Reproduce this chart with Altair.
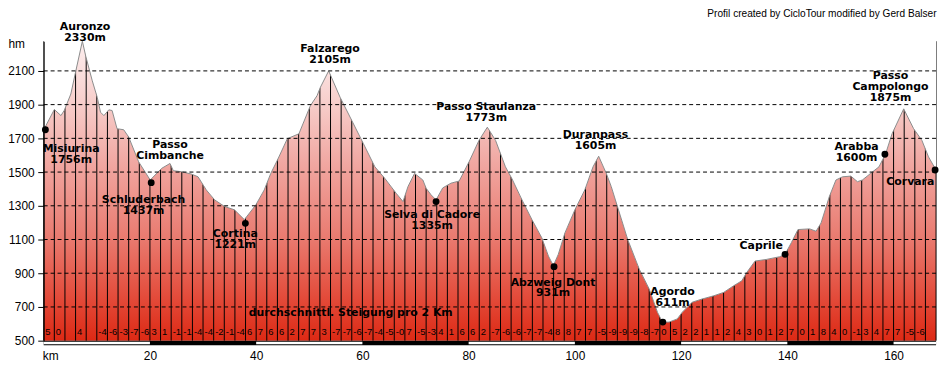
import altair as alt
import pandas as pd

# ---------------- data ----------------
profile_km = [0.0, 2.0, 3.25, 3.86, 5.11, 6.05, 7.28, 7.91, 9.15, 10.08, 10.7, 11.33, 12.26, 12.88,
              13.81, 15.06, 16.0, 17.87, 20.05, 22.21, 23.78, 24.4, 25.95, 27.81, 29.06, 30.61,
              32.18, 34.05, 35.92, 37.78, 39.95, 41.52, 42.75, 44.0, 45.87, 48.05, 50.21, 51.46,
              52.08, 53.65, 55.81, 58.0, 60.18, 62.35, 64.21, 66.34, 67.65, 68.58, 69.82, 71.38,
              72.0, 72.93, 73.87, 75.12, 76.67, 78.22, 80.08, 81.95, 83.52, 85.07, 86.93, 88.18,
              90.05, 91.92, 93.78, 95.02, 95.95, 96.88, 98.13, 100.0, 101.87, 103.42, 104.48,
              105.92, 106.85, 109.95, 112.13, 114.0, 115.55, 116.48, 117.73, 119.28, 120.22,
              122.08, 123.95, 126.13, 128.0, 129.87, 131.42, 132.35, 133.92, 136.08, 138.58,
              139.57, 140.75, 142.0, 144.18, 145.41, 146.35, 147.91, 149.15, 150.4, 151.95,
              153.2, 154.13, 155.68, 157.25, 158.48, 159.73, 161.91, 163.78, 165.33, 166.58, 168.0]
profile_elev = [1750, 1871, 1835, 1865, 1963, 2100, 2276, 2188, 2041, 1943, 1855, 1835, 1869, 1865,
                1757, 1751, 1708, 1561, 1453, 1522, 1551, 1508, 1502, 1488, 1472, 1394,
                1335, 1296, 1276, 1218, 1306, 1394, 1492, 1571, 1698, 1727, 1894, 1953,
                2002, 2100, 1943, 1806, 1669, 1531, 1463, 1375, 1325, 1414, 1492, 1453,
                1404, 1365, 1335, 1406, 1434, 1447, 1561, 1688, 1766, 1688, 1531, 1459,
                1335, 1218, 1110, 1002, 945, 1012, 1139, 1276, 1394, 1531, 1594,
                1492, 1414, 1100, 924, 806, 669, 610, 610, 629, 669,
                728, 747, 766, 786, 825, 855, 904, 972, 982, 998,
                1012, 1081, 1159, 1163, 1149, 1198, 1355, 1453, 1472, 1476,
                1443, 1453, 1492, 1531, 1606, 1728, 1875, 1757, 1688, 1590, 1512]

# average gradient per 2 km segment (empty where the original shows nothing)
grad_labels = ["5", "0", "", "4", "", "-4", "-6", "-3", "-7", "-6", "3", "1", "-1", "-1", "-4", "-4",
               "-2", "-1", "-4", "6", "7", "6", "6", "2", "7", "7", "3", "-7", "-7", "-6", "-7", "-4",
               "-5", "-0", "7", "-5", "-3", "4", "1", "6", "6", "2", "-7", "-6", "-6", "-7", "-7", "-4",
               "8", "8", "7", "7", "-5", "-9", "-9", "-9", "-8", "-7", "0", "5", "2", "2", "1", "1",
               "2", "4", "3", "0", "1", "2", "7", "0", "1", "8", "4", "0", "-1", "3", "4", "7", "7",
               "-5", "-6", ""]
SEG_LEN = 2

km_ticks = [20, 40, 60, 80, 100, 120, 140, 160]
elev_ticks = [500, 700, 900, 1100, 1300, 1500, 1700, 1900, 2100]
grid_levels = [700, 900, 1100, 1300, 1500, 1700, 1900, 2100]

# places: label text, label anchor (km, elev)
label_text = ["Auronzo\n2330m", "Falzarego\n2105m", "Passo Staulanza\n1773m", "Duranpass\n1605m",
              "Passo\nCampolongo\n1875m", "Misiurina\n1756m", "Passo\nCimbanche", "Schluderbach\n1437m",
              "Cortina\n1221m", "Selva di Cadore\n1335m", "Abzweig Dont\n931m", "Agordo\n611m",
              "Caprile", "Arabba\n1600m", "Corvara"]
label_km = [7.78, 53.91, 83.31, 103.88, 159.42, 5.17, 23.78, 18.8, 36.07, 73.12, 95.89, 118.39,
            135.09, 153.02, 163.15]
label_elev = [2395, 2266, 1919, 1757, 2106, 1670, 1694, 1370, 1165, 1278, 880, 822, 1096, 1684, 1478]

# marked points on the route
dot_km = [0.32, 20.24, 37.97, 73.87, 96.08, 116.56, 139.57, 158.37, 167.82]
dot_elev = [1751, 1437, 1196, 1325, 939, 610, 1012, 1606, 1512]

# scale bar under the profile (white segments; the rest is black)
bar_white_start = [0, 40, 80, 120, 160]
bar_white_end = [20, 60, 100, 140, 168]

X_DOMAIN = [0, 168]
Y_DOMAIN = [500, 2276]

# ---------------- chart ----------------
W, H = 900, 302
xs = alt.Scale(domain=X_DOMAIN, nice=False, zero=False)
ys = alt.Scale(domain=Y_DOMAIN, nice=False, zero=False)

prof = pd.DataFrame({"km": profile_km, "elev": profile_elev})
segs = pd.DataFrame({"km": [SEG_LEN * i for i in range(len(grad_labels) + 1)]})
grads = pd.DataFrame({"km": [SEG_LEN * i for i in range(len(grad_labels))], "g": grad_labels})
grid = pd.DataFrame({"elev": grid_levels})
labels = pd.DataFrame({"km": label_km, "elev": label_elev, "t": label_text})
dots = pd.DataFrame({"km": dot_km, "elev": dot_elev})
bar_all = pd.DataFrame({"s": [X_DOMAIN[0]], "e": [X_DOMAIN[1]]})
bar_white = pd.DataFrame({"s": bar_white_start, "e": bar_white_end})

gradient = alt.Gradient(
    gradient="linear",
    stops=[
        alt.GradientStop(color="#fdefef", offset=0),
        alt.GradientStop(color="#f7cfcc", offset=0.2),
        alt.GradientStop(color="#f0a39d", offset=0.43),
        alt.GradientStop(color="#e97a6f", offset=0.66),
        alt.GradientStop(color="#e34a39", offset=0.86),
        alt.GradientStop(color="#dd2914", offset=1),
    ],
    x1=1, x2=1, y1=0, y2=1,
)

x_axis = alt.Axis(values=km_ticks, format="d", domain=False, ticks=False, tickSize=0, grid=False,
                  labelFont="Liberation Sans", labelFontSize=12, labelColor="black",
                  labelBaseline="alphabetic", labelPadding=19, title=None, zindex=1)
y_axis = alt.Axis(values=elev_ticks, format="d", domain=True, domainColor="black", domainWidth=1,
                  ticks=True, tickColor="black", tickSize=6, grid=False,
                  labelFont="Liberation Sans", labelFontSize=12, labelColor="black",
                  labelPadding=3.6, title=None, zindex=1)


def X(field):
    return alt.X(field, scale=xs, axis=x_axis)


def Y(field):
    return alt.Y(field, scale=ys, axis=y_axis, stack=None)


area = alt.Chart(prof).mark_area(color=gradient, interpolate="linear").encode(
    x=X("km:Q"), y=Y("elev:Q"), y2=alt.datum(Y_DOMAIN[0]),
)

rules = alt.Chart(segs).mark_rule(color="black", strokeWidth=1).encode(
    x=X("km:Q"), y=alt.value(H), y2=alt.value(0),
)

mask = alt.Chart(prof).mark_area(color="white", opacity=1, interpolate="linear").encode(
    x=X("km:Q"), y=Y("elev:Q"), y2=alt.value(-2),
)

outline = alt.Chart(prof).mark_line(color="#8a8a8a", strokeWidth=1, interpolate="linear").encode(
    x=X("km:Q"), y=Y("elev:Q"),
)

gridlines = alt.Chart(grid).mark_rule(color="black", strokeWidth=1, strokeDash=[4, 3]).encode(
    y=Y("elev:Q"), x=alt.value(0), x2=alt.value(W),
)

bar_black = alt.Chart(bar_all).mark_rect(color="black").encode(
    x=X("s:Q"), x2="e:Q", y=alt.value(H), y2=alt.value(H + 4.5),
)
bar_w = alt.Chart(bar_white).mark_rect(color="white").encode(
    x=X("s:Q"), x2="e:Q", y=alt.value(H + 1), y2=alt.value(H + 3.5),
)

grad_text = alt.Chart(grads).mark_text(
    font="Liberation Sans", fontSize=9.5, color="black", align="left", baseline="alphabetic", dx=1.5
).encode(x=X("km:Q"), y=alt.value(296.5), text="g:N")

place_text = alt.Chart(labels).mark_text(
    font="DejaVu Sans", fontWeight="bold", fontSize=11, color="black", align="center",
    baseline="top", lineBreak="\n", lineHeight=11
).encode(x=X("km:Q"), y=Y("elev:Q"), text="t:N")

dot_marks = alt.Chart(dots).mark_circle(color="black", opacity=1, size=48).encode(
    x=X("km:Q"), y=Y("elev:Q"),
)

avg_text = alt.Chart(pd.DataFrame({"km": [38.59], "elev": [645],
                                   "t": ["durchschnittl. Steigung pro 2 Km"]})).mark_text(
    font="DejaVu Sans", fontWeight="bold", fontSize=11, color="black", align="left", baseline="alphabetic"
).encode(x=X("km:Q"), y=Y("elev:Q"), text="t:N")

chrome = pd.DataFrame({"t": ["hm", "km", "Profil created by CicloTour modified by Gerd Balser"]})
hm_text = alt.Chart(chrome.iloc[[0]]).mark_text(
    font="Liberation Sans", fontSize=12, color="black", align="left", baseline="alphabetic"
).encode(x=alt.value(-35.5), y=alt.value(6.7), text="t:N")
km_text = alt.Chart(chrome.iloc[[1]]).mark_text(
    font="Liberation Sans", fontSize=12, color="black", align="left", baseline="alphabetic"
).encode(x=alt.value(-1), y=alt.value(321), text="t:N")
credit_text = alt.Chart(chrome.iloc[[2]]).mark_text(
    font="Liberation Sans", fontSize=10.2, color="black", align="right", baseline="alphabetic"
).encode(x=alt.value(900.5), y=alt.value(-24.3), text="t:N")

chart = alt.layer(
    area, rules, mask, outline, gridlines, bar_black, bar_w, grad_text,
    avg_text, place_text, dot_marks, hm_text, km_text, credit_text
).properties(
    width=W, height=H,
    padding={"left": 36, "top": 32, "right": 7, "bottom": 20},
    autosize=alt.AutoSizeParams(type="none"),
    background="white",
).configure_view(stroke=None)

chart.save("out.html", embed_options={"renderer": "svg", "actions": False})
